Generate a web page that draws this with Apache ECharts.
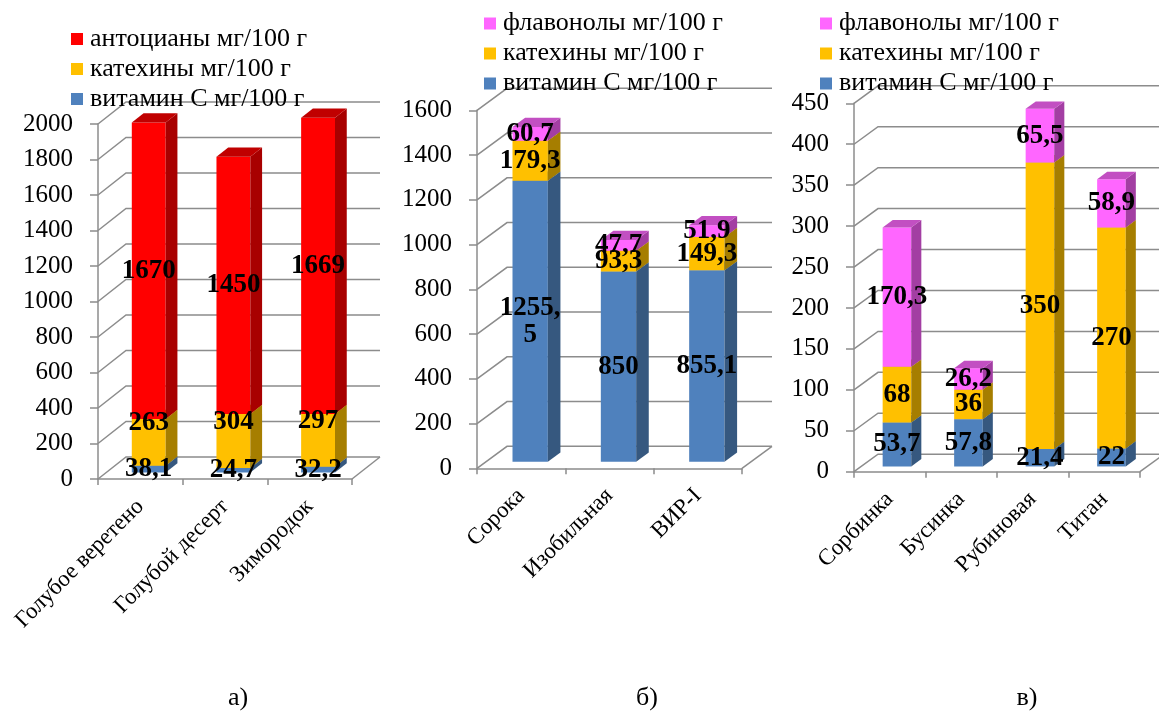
<!DOCTYPE html>
<html>
<head>
<meta charset="utf-8">
<script src="https://cdn.jsdelivr.net/npm/echarts@6/dist/echarts.min.js"></script>
<style>
  html, body { margin: 0; padding: 0; background: #ffffff; }
  #chart { width: 1159px; height: 713px; }
</style>
</head>
<body>
<div id="chart"></div>
<script>
// ---- Panel а: blue honeysuckle varieties ----
const catsA = ['Голубое веретено', 'Голубой десерт', 'Зимородок'];
const vitaminCA = [38.1, 24.7, 32.2];
const catechinsA = [263, 304, 297];
const anthocyaninsA = [1670, 1450, 1669];
const yTicksA = [0, 200, 400, 600, 800, 1000, 1200, 1400, 1600, 1800, 2000];

// ---- Panel б ----
const catsB = ['Сорока', 'Изобильная', 'ВИР-I'];
const vitaminCB = [1255.5, 850, 855.1];
const catechinsB = [179.3, 93.3, 149.3];
const flavonolsB = [60.7, 47.7, 51.9];
const yTicksB = [0, 200, 400, 600, 800, 1000, 1200, 1400, 1600];

// ---- Panel в ----
const catsC = ['Сорбинка', 'Бусинка', 'Рубиновая', 'Титан'];
const vitaminCC = [53.7, 57.8, 21.4, 22];
const catechinsC = [68, 36, 350, 270];
const flavonolsC = [170.3, 26.2, 65.5, 58.9];
const yTicksC = [0, 50, 100, 150, 200, 250, 300, 350, 400, 450];

const panelCaptions = ['а)', 'б)', 'в)'];

const NAME_ANTH = 'антоцианы мг/100 г';
const NAME_CAT = 'катехины мг/100 г';
const NAME_VIT = 'витамин С мг/100 г';
const NAME_FLAV = 'флавонолы мг/100 г';

const FONT = '"Liberation Serif", "Times New Roman", serif';
const WALL = '#8c8c8c';

// front / side / top shades for the pseudo-3D columns
const COL = {
  vit:  ['#4F81BD', '#36587F', '#4470A6'],
  cat:  ['#FFC000', '#A67E00', '#C99800'],
  anth: ['#FF0000', '#A80000', '#C00000'],
  flav: ['#FF66FF', '#A33EA3', '#C24FC2']
};

// column placement inside the depth of the plot box
const F0 = 0.3, F1 = 0.72, BAR_W = 0.4;

const panels = [
  {
    grid: { left: 98, top: 124, width: 254, height: 355 },
    depth: [28, -22], cats: catsA, ticks: yTicksA,
    legend: { left: 71, top: 26, names: [NAME_ANTH, NAME_CAT, NAME_VIT] },
    caption: { x: 238, y: 698 },
    stack: [
      { name: NAME_VIT, values: vitaminCA, color: COL.vit },
      { name: NAME_CAT, values: catechinsA, color: COL.cat, labelDy: -19 },
      { name: NAME_ANTH, values: anthocyaninsA, color: COL.anth }
    ]
  },
  {
    grid: { left: 477, top: 110.3, width: 265, height: 358 },
    depth: [30, -22], cats: catsB, ticks: yTicksB,
    legend: { left: 484, top: 10.5, names: [NAME_FLAV, NAME_CAT, NAME_VIT] },
    caption: { x: 647, y: 698 },
    stack: [
      { name: NAME_VIT, values: vitaminCB, color: COL.vit },
      { name: NAME_CAT, values: catechinsB, color: COL.cat },
      { name: NAME_FLAV, values: flavonolsB, color: COL.flav }
    ]
  },
  {
    grid: { left: 854, top: 103.3, width: 286, height: 368.4 },
    depth: [24, -17.5], cats: catsC, ticks: yTicksC,
    legend: { left: 820, top: 10.5, names: [NAME_FLAV, NAME_CAT, NAME_VIT] },
    caption: { x: 1027, y: 698 },
    stack: [
      { name: NAME_VIT, values: vitaminCC, color: COL.vit },
      { name: NAME_CAT, values: catechinsC, color: COL.cat },
      { name: NAME_FLAV, values: flavonolsC, color: COL.flav }
    ]
  }
];

function fmt(v) { return String(v).replace('.', ','); }

// side wall diagonals, back-wall gridlines and the right floor edge
function frameRenderer(p) {
  const n = p.cats.length;
  const [dx, dy] = p.depth;
  return function (params, api) {
    const v = api.value(1);
    const pt = api.coord([0, v]);
    const band = api.size([1, 0])[0];
    const x0 = pt[0] - band / 2;
    const x1 = x0 + band * n;
    const y = pt[1];
    const style = { stroke: WALL, lineWidth: 1.5, fill: null };
    const children = [{
      type: 'polyline',
      shape: { points: [[x0, y], [x0 + dx, y + dy], [x1 + dx, y + dy]] },
      style: style
    }];
    if (v === 0) {
      children.push({ type: 'line', shape: { x1: x1, y1: y, x2: x1 + dx, y2: y + dy }, style: style });
    }
    return { type: 'group', children: children };
  };
}

// one stacked segment of a column: front face, right side, top and its value label
function barRenderer(p, s) {
  const [dx, dy] = p.depth;
  return function (params, api) {
    const i = api.value(0), top = api.value(1), base = api.value(2), val = api.value(3);
    const band = api.size([1, 0])[0];
    const w = band * BAR_W;
    const pTop = api.coord([i, top]);
    const pBase = api.coord([i, base]);
    const ox = dx * F0, oy = dy * F0;
    const bx = dx * (F1 - F0), by = dy * (F1 - F0);
    const xl = pTop[0] - w / 2 + ox, xr = xl + w;
    const yt = pTop[1] + oy, yb = pBase[1] + oy;
    return {
      type: 'group',
      children: [
        { type: 'rect', shape: { x: xl, y: yt, width: w, height: yb - yt }, style: { fill: s.color[0] }, z2: 1 },
        { type: 'polygon', shape: { points: [[xr, yt], [xr + bx, yt + by], [xr + bx, yb + by], [xr, yb]] }, style: { fill: s.color[1] }, z2: 1 },
        { type: 'polygon', shape: { points: [[xl, yt], [xr, yt], [xr + bx, yt + by], [xl + bx, yt + by]] }, style: { fill: s.color[2] }, z2: 1 },
        {
          type: 'text', z2: 100,
          style: {
            text: fmt(val), x: xl + w / 2, y: (yt + yb) / 2 + (s.labelDy || 0),
            align: 'center', verticalAlign: 'middle',
            width: 64, overflow: 'breakAll', lineHeight: 27,
            fontFamily: FONT, fontSize: 27, fontWeight: 'bold', fill: '#000'
          }
        }
      ]
    };
  };
}

const option = {
  animation: false,
  backgroundColor: '#ffffff',
  grid: [], xAxis: [], yAxis: [], series: [], legend: [], graphic: []
};

panels.forEach((p, k) => {
  option.grid.push(Object.assign({ containLabel: false }, p.grid));
  option.xAxis.push({
    type: 'category', gridIndex: k, data: p.cats, boundaryGap: true,
    axisLine: { show: true, lineStyle: { color: WALL, width: 1.5 } },
    axisTick: { show: true, length: 6, lineStyle: { color: WALL, width: 1.5 } },
    axisLabel: { rotate: 45, interval: 0, margin: 24, fontSize: 23, fontFamily: FONT, color: '#000' },
    splitLine: { show: false }
  });
  const t = p.ticks;
  option.yAxis.push({
    type: 'value', gridIndex: k, min: t[0], max: t[t.length - 1], interval: t[1] - t[0],
    axisLine: { show: true, lineStyle: { color: WALL, width: 1.5 } },
    axisTick: { show: true, length: 8, lineStyle: { color: WALL, width: 1.5 } },
    axisLabel: { margin: 25, fontSize: 25, fontFamily: FONT, color: '#000', formatter: v => String(v) },
    splitLine: { show: false }
  });
  option.series.push({
    type: 'custom', name: 'frame' + k, xAxisIndex: k, yAxisIndex: k,
    data: t.map(v => [0, v]), renderItem: frameRenderer(p),
    silent: true, clip: false, z: 1
  });
  const base = p.cats.map(() => 0);
  p.stack.forEach(s => {
    const data = s.values.map((v, i) => {
      const item = [i, base[i] + v, base[i], v];
      base[i] += v;
      return item;
    });
    option.series.push({
      type: 'custom', name: s.name, xAxisIndex: k, yAxisIndex: k,
      data: data, renderItem: barRenderer(p, s),
      itemStyle: { color: s.color[0] }, clip: false, z: 2,
      encode: { x: 0, y: 1 }
    });
  });
  option.legend.push({
    left: p.legend.left, top: p.legend.top, orient: 'vertical', padding: 0,
    icon: 'rect', itemWidth: 12, itemHeight: 12, itemGap: 4,
    selectedMode: false, data: p.legend.names,
    textStyle: { fontSize: 26, lineHeight: 24, fontFamily: FONT, color: '#000', padding: [0, 0, 0, 2] }
  });
  option.graphic.push({
    type: 'text', x: p.caption.x, y: p.caption.y,
    style: { text: panelCaptions[k], align: 'center', verticalAlign: 'middle', fontSize: 26, fontFamily: FONT, fill: '#000' }
  });
});

const chart = echarts.init(document.getElementById('chart'), null, { renderer: 'canvas' });
chart.setOption(option);
</script>
</body>
</html>
